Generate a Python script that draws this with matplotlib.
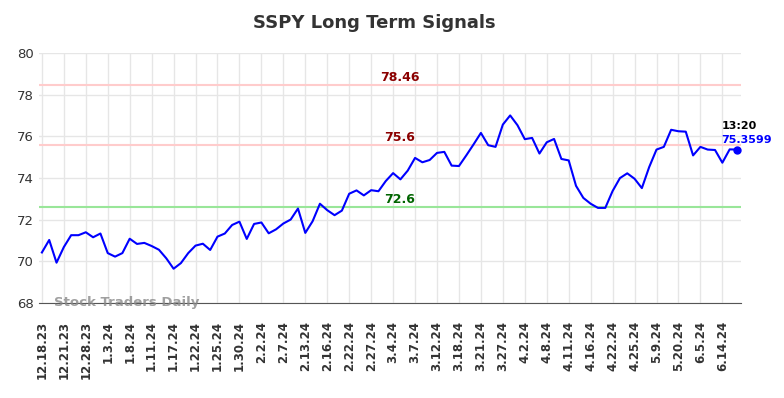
import matplotlib
matplotlib.use("Agg")
import matplotlib.pyplot as plt

# closing prices, one per trading day
prices = [
    70.42, 71.02, 69.93, 70.68, 71.25, 71.25, 71.39, 71.15, 71.33, 70.39,
    70.22, 70.39, 71.08, 70.83, 70.88, 70.73, 70.55, 70.14, 69.64, 69.91,
    70.39, 70.75, 70.84, 70.54, 71.18, 71.33, 71.74, 71.90, 71.07, 71.79,
    71.86, 71.34, 71.53, 71.81, 72.00, 72.53, 71.36, 71.92, 72.76, 72.45,
    72.21, 72.43, 73.24, 73.40, 73.16, 73.41, 73.36, 73.85, 74.23, 73.93,
    74.35, 74.96, 74.75, 74.86, 75.20, 75.25, 74.59, 74.57, 75.08, 75.61,
    76.16, 75.57, 75.49, 76.56, 77.00, 76.53, 75.86, 75.92, 75.17, 75.71,
    75.87, 74.91, 74.84, 73.62, 73.04, 72.76, 72.56, 72.56, 73.37, 73.99,
    74.22, 73.96, 73.51, 74.52, 75.36, 75.49, 76.31, 76.24, 76.22, 75.08,
    75.49, 75.36, 75.34, 74.73, 75.37, 75.3599,
]

tick_labels = [
    "12.18.23", "12.21.23", "12.28.23", "1.3.24", "1.8.24", "1.11.24",
    "1.17.24", "1.22.24", "1.25.24", "1.30.24", "2.2.24", "2.7.24",
    "2.13.24", "2.16.24", "2.22.24", "2.27.24", "3.4.24", "3.7.24",
    "3.12.24", "3.18.24", "3.21.24", "3.27.24", "4.2.24", "4.8.24",
    "4.11.24", "4.16.24", "4.22.24", "4.25.24", "5.9.24", "5.20.24",
    "6.5.24", "6.14.24",
]
tick_step = 3

upper_signal = 78.46
mid_signal = 75.6
lower_signal = 72.6
last_time = "13:20"

fig = plt.figure(figsize=(7.84, 3.98), dpi=100)
ax = fig.add_axes([0.0497, 0.239, 0.895, 0.628])

x = list(range(len(prices)))

ax.axhline(upper_signal, color="#ffcccc", lw=1.5, zorder=1)
ax.axhline(mid_signal, color="#ffcccc", lw=1.5, zorder=1)
ax.axhline(lower_signal, color="#99e699", lw=1.5, zorder=1)

ax.plot(x, prices, color="#0000ff", lw=1.5, zorder=3)
ax.plot(x[-1], prices[-1], "o", color="#0000ff", ms=5, zorder=4)

# signal labels sit just above their lines
lab_x = 48.9
for val, col in [(upper_signal, "#8b0000"), (mid_signal, "#8b0000"),
                 (lower_signal, "#006400")]:
    ax.text(lab_x, val + 0.36, str(val), color=col, fontsize=9,
            fontweight="bold", ha="center", va="center")

ax.text(x[-1] - 2.1, prices[-1] + 0.87, last_time, color="black",
        fontsize=8, fontweight="bold", ha="left", va="bottom")
ax.text(x[-1] - 2.1, prices[-1] + 0.2, str(prices[-1]), color="#0000ff",
        fontsize=8, fontweight="bold", ha="left", va="bottom")

ax.text(1.6, 68.0, "Stock Traders Daily", color="#888888", alpha=0.8,
        fontsize=9.5, fontweight="bold", ha="left", va="center")

ax.set_xlim(-0.4, 95.5)
ax.set_ylim(68, 80)
ax.set_yticks(range(68, 81, 2))
ax.set_xticks(x[::tick_step])
ax.set_xticklabels(tick_labels, rotation=90, fontsize=8.5, fontweight="bold")
ax.tick_params(axis="both", length=0, colors="#333333")
ax.tick_params(axis="y", labelsize=9.5)
ax.tick_params(axis="x", pad=13)

ax.grid(True, color="#e6e6e6", lw=1)
ax.set_axisbelow(True)
for side in ("top", "right", "left"):
    ax.spines[side].set_visible(False)
ax.spines["bottom"].set_color("#555555")

fig.suptitle("SSPY Long Term Signals", fontsize=13, fontweight="bold",
             color="#333333", x=0.477, y=0.965)

fig.savefig("out.png", dpi=100, facecolor="white")
